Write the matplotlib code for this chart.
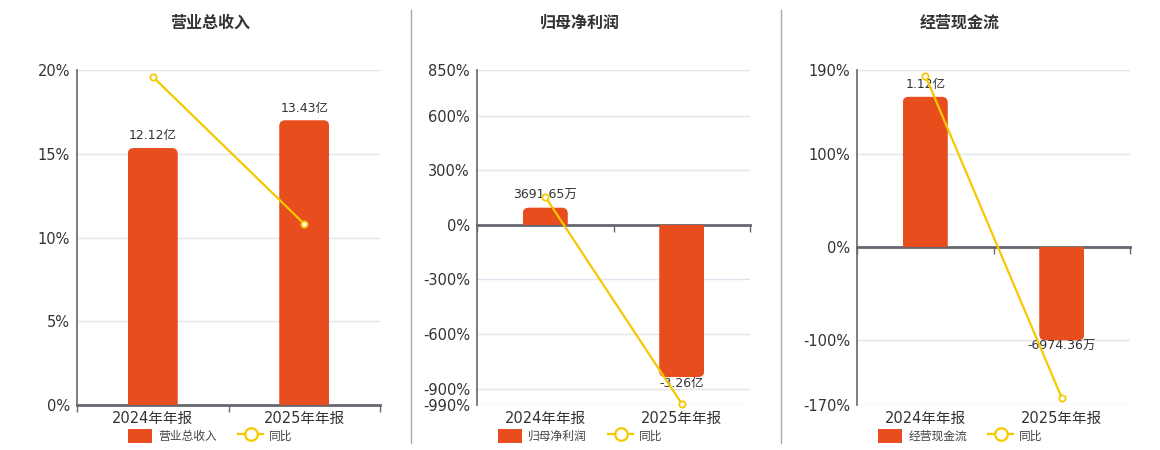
import matplotlib
matplotlib.use("Agg")
import matplotlib.pyplot as plt
from matplotlib.patches import Patch, FancyBboxPatch, Rectangle
from matplotlib.lines import Line2D

plt.rcParams["font.family"] = ["DejaVu Sans", "Noto Sans CJK SC"]

## data
periods = ["2024年年报", "2025年年报"]

titles = ["营业总收入", "归母净利润", "经营现金流"]

# bar values in 亿
revenue = [12.12, 13.43]
net_profit = [0.369165, -3.26]
cash_flow = [1.12, -0.697436]

# bar labels
revenue_labels = ["12.12亿", "13.43亿"]
net_profit_labels = ["3691.65万", "-3.26亿"]
cash_flow_labels = ["1.12亿", "-6974.36万"]

# 同比 (%)
revenue_yoy = [19.6, 10.81]
net_profit_yoy = [154, -983]
cash_flow_yoy = [184, -162.3]

# left axis ticks
revenue_ticks = [0, 5, 10, 15, 20]
net_profit_ticks = [-990, -900, -600, -300, 0, 300, 600, 850]
cash_flow_ticks = [-170, -100, 0, 100, 190]

# hidden bar axis ranges (zero aligned with the percent axis)
revenue_barlim = (0, 15.8)
net_profit_barlim = (-3.86, 3.32)
cash_flow_barlim = (-1.18, 1.32)

## styles
bar_color = "#E84D1E"
line_color = "#F5C800"
grid_color = "#DFE4EF"
axis_color = "#666670"
text_color = "#333333"

panels = [
    (titles[0], revenue, revenue_labels, revenue_yoy, revenue_ticks, revenue_barlim),
    (titles[1], net_profit, net_profit_labels, net_profit_yoy, net_profit_ticks, net_profit_barlim),
    (titles[2], cash_flow, cash_flow_labels, cash_flow_yoy, cash_flow_ticks, cash_flow_barlim),
]

W, H = 1160, 450
fig = plt.figure(figsize=(W / 100, H / 100), dpi=100)

# axes boxes in pixels: left, width
boxes = [(77, 303), (477, 273), (857, 273)]
centers = [210, 580, 960]
top_px, bottom_px = 70, 405

for (title, vals, labels, yoy, ticks, barlim), (left, width), cx in zip(panels, boxes, centers):
    ax = fig.add_axes([left / W, 1 - bottom_px / H, width / W, (bottom_px - top_px) / H])
    ax2 = ax.twinx()

    x = list(range(len(periods)))
    ax.set_xlim(-0.5, len(periods) - 0.5)
    ax.set_ylim(ticks[0], ticks[-1])
    ax2.set_ylim(*barlim)

    ## percent axis
    ax.set_yticks(ticks)
    ax.set_yticklabels([f"{t}%" for t in ticks], fontsize=10.5, color=text_color)
    ax.tick_params(axis="y", length=0, pad=5)
    ax.grid(axis="y", color=grid_color, linewidth=1)
    ax.set_axisbelow(True)
    for s in ["top", "right"]:
        ax.spines[s].set_visible(False)
    ax.spines["left"].set_color(axis_color)
    ax.spines["left"].set_linewidth(1.2)
    ax.spines["bottom"].set_position(("data", 0))
    ax.spines["bottom"].set_color(axis_color)
    ax.spines["bottom"].set_linewidth(2)
    ax.set_xticks([i - 0.5 for i in range(len(periods) + 1)])
    ax.set_xticklabels([])
    ax.tick_params(axis="x", length=5, width=1, color=axis_color, direction="out")

    sec = ax.secondary_xaxis("bottom")
    sec.set_xticks(x)
    sec.set_xticklabels(periods, fontsize=10.5, color=text_color)
    sec.tick_params(length=0, pad=4)
    sec.spines["bottom"].set_visible(False)

    ## bars on hidden axis
    ax2.set_yticks([])
    for s in ax2.spines.values():
        s.set_visible(False)
    bars = ax2.bar(x, vals, width=0.33, color=bar_color, zorder=2)
    ## rounded far end only: extend past zero and clip at zero
    fig.canvas.draw()
    px_x = ax2.transData.transform((1, 0))[0] - ax2.transData.transform((0, 0))[0]
    px_y = ax2.transData.transform((0, 1))[1] - ax2.transData.transform((0, 0))[1]
    r = 6 / px_x
    ext = 8 / px_y
    for b in bars:
        b.set_visible(False)
        v = b.get_height()
        if v >= 0:
            y0, h = -ext, v + ext
            clip = Rectangle((b.get_x(), 0), b.get_width(), v + 1, transform=ax2.transData)
        else:
            y0, h = v, -v + ext
            clip = Rectangle((b.get_x(), v - 1), b.get_width(), -v + 1, transform=ax2.transData)
        fb = FancyBboxPatch((b.get_x(), y0), b.get_width(), h,
                            boxstyle=f"round,pad=0,rounding_size={r}",
                            mutation_aspect=px_x / px_y,
                            facecolor=bar_color, edgecolor="none", zorder=2)
        ax2.add_patch(fb)
        fb.set_clip_path(clip)

    for xi, v, lab in zip(x, vals, labels):
        if v >= 0:
            ax2.annotate(lab, (xi, v), xytext=(0, 4), textcoords="offset points",
                         ha="center", va="bottom", fontsize=9, color=text_color, zorder=3)
        else:
            ax2.annotate(lab, (xi, v), xytext=(0, 0), textcoords="offset points",
                         ha="center", va="top", fontsize=9, color=text_color, zorder=3)

    ## yoy line, drawn above bars in percent coordinates
    ax2.plot(x, yoy, transform=ax.transData, color=line_color, linewidth=1.6,
             marker="o", markersize=4.5, markerfacecolor="white",
             markeredgecolor=line_color, markeredgewidth=1.3, zorder=4, clip_on=False)
    ax2.set_ylim(*barlim)

    ## title and legend
    fig.text(cx / W, 1 - 23 / H, title, ha="center", va="center",
             fontsize=11.5, fontweight="bold", color=text_color)
    handles = [Patch(facecolor=bar_color, edgecolor="none"),
               Line2D([0], [0], color=line_color, linewidth=1.6, marker="o",
                      markersize=9, markerfacecolor="white", markeredgecolor=line_color,
                      markeredgewidth=1.6)]
    fig.legend(handles, [title, "同比"], loc="center", bbox_to_anchor=(cx / W, 1 - 436 / H),
               ncol=2, frameon=False, fontsize=8.5, handlelength=2.1, handleheight=1.5,
               handletextpad=0.5, columnspacing=1.8, labelcolor="#444444")

## panel separators
for sx in [410.5, 780.5]:
    fig.add_artist(Line2D([sx / W, sx / W], [1 - 10 / H, 1 - 443 / H],
                          color="#AAAAAA", linewidth=1))

fig.savefig("out.png", dpi=100)
